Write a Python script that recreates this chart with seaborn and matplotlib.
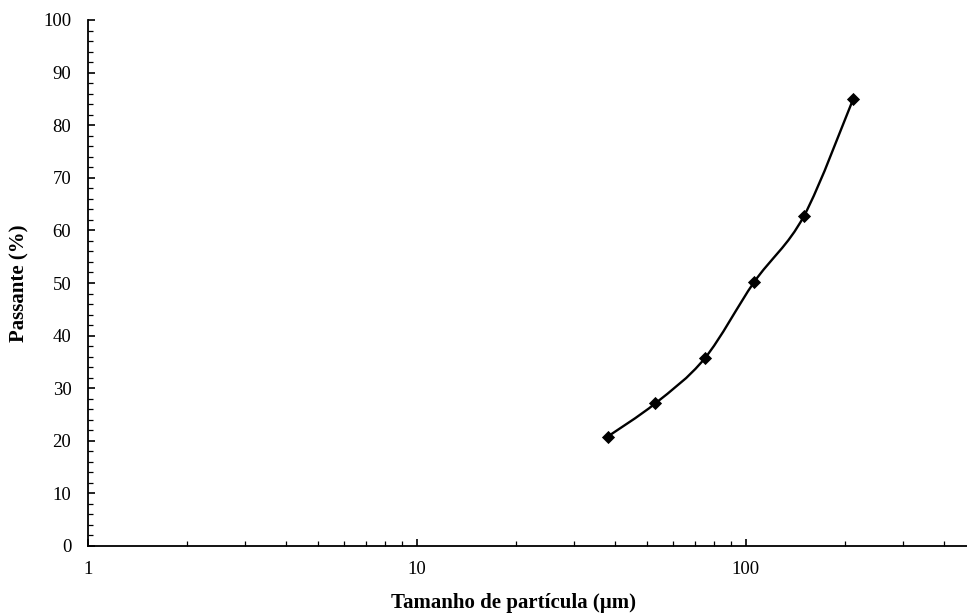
import numpy as np
import pandas as pd
import seaborn as sns
from matplotlib import pyplot as plt
from matplotlib.path import Path
from matplotlib.patches import PathPatch
from matplotlib.ticker import LogLocator, FixedLocator, MultipleLocator, NullFormatter

# data
tamanho = [38, 53, 75, 106, 150, 212]
passante = [20.8, 27.1, 35.7, 50.2, 62.7, 85.0]

df = pd.DataFrame({"tamanho": tamanho, "passante": passante})

sns.set_style("ticks")
plt.rcParams["font.family"] = ["Liberation Serif", "DejaVu Serif"]
plt.rcParams["text.color"] = "black"
plt.rcParams["axes.labelcolor"] = "black"

fig = plt.figure(figsize=(9.67, 6.14), dpi=100)
ax = fig.add_axes([88 / 967, (614 - 546) / 614, (967 - 88) / 967, (546 - 20) / 614])

# smoothed line (Excel-like bezier through the points, in log-x space)
lx = np.log10(df["tamanho"].to_numpy())
yy = df["passante"].to_numpy()
pts = np.column_stack([lx, yy])
n = len(pts)
verts = [pts[0]]
codes = [Path.MOVETO]
for i in range(n - 1):
    p_prev = pts[max(i - 1, 0)]
    p0, p1 = pts[i], pts[i + 1]
    p_next = pts[min(i + 2, n - 1)]
    c1 = p0 + (p1 - p_prev) / 6
    c2 = p1 - (p_next - p0) / 6
    verts += [c1, c2, p1]
    codes += [Path.CURVE4] * 3
verts = np.array(verts)
verts[:, 0] = 10 ** verts[:, 0]
ax.add_patch(PathPatch(Path(verts, codes), facecolor="none", edgecolor="black", lw=1.7, zorder=2))

sns.scatterplot(data=df, x="tamanho", y="passante", marker="D", color="black",
                s=45, edgecolor="black", linewidth=0, ax=ax, zorder=3)

ax.set_xscale("log")
ax.set_xlim(1, 470)
ax.set_ylim(0, 100)

ax.xaxis.set_major_locator(FixedLocator([1, 10, 100]))
ax.xaxis.set_major_formatter(plt.FixedFormatter(["1", "10", "100"]))
ax.xaxis.set_minor_locator(LogLocator(base=10, subs=np.arange(2, 10)))
ax.xaxis.set_minor_formatter(NullFormatter())
ax.yaxis.set_major_locator(MultipleLocator(10))
ax.yaxis.set_minor_locator(MultipleLocator(2))

ax.tick_params(axis="both", which="major", direction="in", length=5, width=1.2,
               labelsize=13.5, color="black", labelcolor="black")
ax.tick_params(axis="both", which="minor", direction="in", length=3.5, width=0.9, color="black")
ax.tick_params(axis="x", which="major", pad=11)
ax.tick_params(axis="y", which="major", pad=12)

for s in ["top", "right"]:
    ax.spines[s].set_visible(False)
for s in ["left", "bottom"]:
    ax.spines[s].set_color("black")
    ax.spines[s].set_linewidth(1.3)

ax.set_xlabel("Tamanho de partícula (µm)", fontsize=15, fontweight="bold", color="black")
ax.xaxis.set_label_coords(0.4846, -0.1179)
ax.xaxis.label.set_va("baseline")
ax.set_ylabel("Passante (%)", fontsize=15, fontweight="bold", color="black")
ax.yaxis.set_label_coords(-0.0774, 0.5)
ax.yaxis.label.set_va("center")

fig.savefig("out.png", dpi=100)
